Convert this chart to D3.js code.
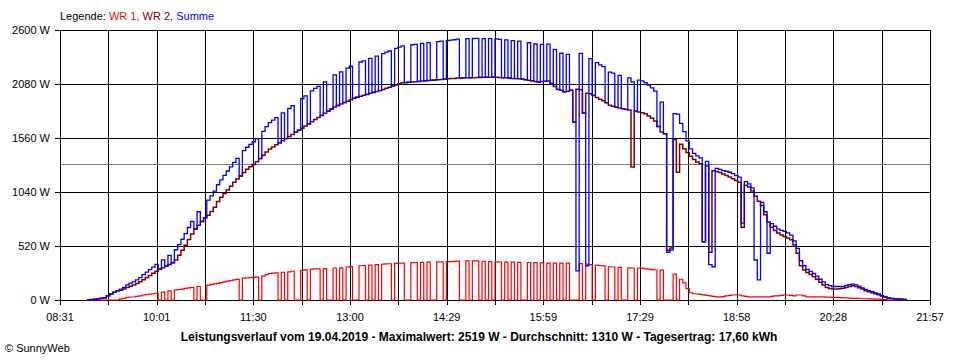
<!DOCTYPE html>
<html><head><meta charset="utf-8">
<script src="https://cdn.jsdelivr.net/npm/d3@7"></script>
<style>
html,body{margin:0;padding:0;background:#fff;}
svg{display:block;font-family:"Liberation Sans",Arial,sans-serif;}
</style></head><body>
<svg id="chart" width="960" height="360"></svg>
<script>
// ---- data ----
const axisStart = "08:31";
const axisEnd = "21:57";
const firstSample = "08:56";
const stepMinutes = 3;
const xTickLabels = ["08:31","10:01","11:30","13:00","14:29","15:59","17:29","18:58","20:28","21:57"];
const yTickValues = [0,520,1040,1560,2080,2600];
const averageW = 1310;
const legendParts = ["WR 1","WR 2","Summe"];
const titleText = "Leistungsverlauf vom 19.04.2019 - Maximalwert: 2519 W - Durchschnitt: 1310 W - Tagesertrag: 17,60 kWh";
const copyrightText = "\u00A9 SunnyWeb";

const wr1 = [0,0,0,0,0,0,0,0,0,0,
10,15,25,29,29,35,40,48,52,56,60,65,0,75,0,87,0,98,101,105,
112,116,121,0,130,0,0,144,150,155,161,167,175,182,186,193,199,0,211,213,
215,218,220,0,230,245,255,259,262,0,267,0,270,277,0,0,285,290,0,298,
300,300,0,302,0,0,308,0,310,0,318,322,0,0,330,331,0,336,0,341,
0,346,348,349,0,352,354,356,0,0,359,360,0,363,0,365,0,0,367,368,
0,369,370,372,375,0,0,376,0,377,377,0,373,0,370,0,368,366,0,365,
0,364,0,363,0,0,361,0,360,0,358,0,356,0,356,0,356,0,356,0,
0,0,350,0,345,340,0,335,332,329,0,320,318,0,315,0,0,310,308,0,
308,306,300,297,293,289,0,287,0,0,0,250,0,200,165,110,70,60,58,55,
50,45,40,35,30,30,32,40,45,48,48,48,40,35,30,30,30,30,30,30,
30,35,40,40,45,48,48,45,40,48,48,40,30,30,30,30,30,30,28,28,
25,25,22,20,20,18,15,15,15,12,12,10,10,8,8,5,5,0,0,0,
0,0,0,0];

const wr2 = [0,4,8,12,16,21,40,57,75,88,
94,106,120,133,145,158,175,196,216,237,257,278,296,311,327,342,358,386,432,480,
528,582,635,683,720,756,792,817,853,894,949,989,1025,1060,1096,1133,1164,1195,1227,1258,
1283,1304,1331,1362,1393,1425,1453,1474,1494,1514,1534,1554,1574,1594,1615,1635,1655,1675,1696,1716,
1737,1757,1777,1798,1818,1839,1859,1873,1887,1901,1915,1929,1943,1953,1962,1971,1980,1990,1999,2008,
2017,2027,2038,2049,2060,2071,2082,2091,2094,2097,2099,2102,2105,2108,2111,2114,2116,2119,2122,2124,
2127,2130,2132,2134,2137,2138,2139,2140,2140,2141,2142,2143,2144,2145,2146,2147,2146,2143,2141,2139,
2137,2134,2132,2130,2127,2122,2116,2111,2105,2099,2103,2106,2108,2085,2057,2028,2020,2005,2010,2020,
1714,2030,2025,1800,1990,1985,1970,1950,1933,1918,1900,1875,1866,1855,1849,1842,1835,1829,1280,1818,
1810,1804,1794,1773,1750,1723,1670,1618,1600,480,500,1545,1230,1500,1457,1420,1385,1352,1330,1313,
560,1290,460,1245,1238,1228,1213,1200,1185,1168,1150,1135,700,1105,1088,1050,1000,950,910,820,
750,700,670,645,626,612,598,580,530,450,330,290,265,245,225,200,170,145,120,110,
105,105,108,112,120,130,138,130,118,105,90,80,70,60,50,38,28,20,15,12,
10,8,6,4];

const summe = [0,4,8,12,16,21,40,57,75,88,
104,121,145,162,174,193,215,244,268,293,317,343,296,386,327,429,358,484,533,585,
640,698,756,683,850,756,792,961,1003,1049,1110,1156,1200,1242,1282,1326,1363,1195,1438,1471,
1498,1522,1551,1362,1623,1670,1708,1733,1756,1514,1801,1554,1844,1871,1615,1635,1940,1965,1696,2014,
2037,2057,1777,2100,1818,1839,2167,1873,2197,1901,2233,2251,1943,1953,2292,2302,1980,2326,1999,2349,
2017,2373,2386,2398,2060,2423,2436,2447,2094,2097,2458,2462,2105,2471,2111,2479,2116,2119,2489,2492,
2127,2499,2502,2506,2512,2138,2139,2516,2140,2518,2519,2143,2517,2145,2516,2147,2514,2509,2141,2504,
2137,2498,2132,2493,2127,2122,2477,2111,2465,2099,2461,2106,2464,2085,2413,2028,2376,2005,2366,2020,
1714,280,2375,1800,330,2325,1970,2285,2265,2247,1900,2195,2184,1855,2164,1842,1835,2139,2100,1818,
2118,2110,2094,2070,2043,2012,1670,1905,1600,460,480,1795,1790,1700,1622,1530,1455,1412,1388,1368,
560,1335,340,320,1268,1258,1245,1240,1230,1216,1198,1183,740,1140,1118,1080,385,193,940,850,
450,735,710,685,671,660,646,625,570,498,378,330,295,275,255,230,200,175,148,138,
130,130,130,132,140,148,153,145,133,117,102,90,80,68,58,43,33,20,15,12,
10,8,6,4];

// ---- chart ----
const toMin = s => { const [h,m] = s.split(":").map(Number); return h*60+m; };
const spanMin = toMin(axisEnd) - toMin(axisStart);
const offset0 = toMin(firstSample) - toMin(axisStart);

const L = 60, R = 930, T = 30, B = 300;
const svg = d3.select("#chart");
svg.append("rect").attr("width",960).attr("height",360).attr("fill","#fff");

const x = d3.scaleLinear().domain([0, spanMin]).range([L, R]);
const y = d3.scaleLinear().domain([0, 2600]).range([B, T]);

const nGrid = (xTickLabels.length - 1) * 2;
const gridMins = d3.range(nGrid + 1).map(k => k * spanMin / nGrid);
const px = v => Math.round(v) + 0.5;

const grid = svg.append("g").attr("shape-rendering","crispEdges");
gridMins.forEach(m => {
  grid.append("line").attr("x1",px(x(m))).attr("x2",px(x(m)))
    .attr("y1",T).attr("y2",B+5).attr("stroke","#000").attr("stroke-width",1);
});
yTickValues.forEach(v => {
  grid.append("line").attr("x1",L-5).attr("x2",R)
    .attr("y1",px(y(v))).attr("y2",px(y(v))).attr("stroke","#000").attr("stroke-width",1);
});
// average line
grid.append("line").attr("x1",L+1).attr("x2",R)
  .attr("y1",px(y(averageW))).attr("y2",px(y(averageW)))
  .attr("stroke","#808080").attr("stroke-width",1);

// axis labels
svg.append("g").selectAll("text").data(yTickValues).join("text")
  .attr("x",50).attr("y",d => y(d)).attr("dy","0.36em")
  .attr("text-anchor","end").attr("font-size",11).attr("fill","#000")
  .text(d => d + " W");
svg.append("g").selectAll("text").data(xTickLabels).join("text")
  .attr("x",(d,i) => x(gridMins[i*2])).attr("y",321)
  .attr("text-anchor","middle").attr("font-size",11).attr("fill","#000")
  .text(d => d);

// series
const colors = ["#ff0000","#800000","#0000ff"];
const widths = [1.2,1.5,1.3];
const seriesList = [wr1, wr2, summe];
const line = d3.line()
  .x((d,i) => x(offset0 + i*stepMinutes))
  .y(d => y(d))
  .curve(d3.curveStepAfter);
seriesList.forEach((s,k) => {
  svg.append("path").attr("d", line(s)).attr("fill","none")
    .attr("stroke",colors[k]).attr("stroke-width",widths[k])
    .attr("stroke-linejoin","miter");
});

// legend
const leg = svg.append("text").attr("x",60).attr("y",20).attr("font-size",11);
leg.append("tspan").attr("fill","#000").text("Legende: ");
legendParts.forEach((p,k) => {
  leg.append("tspan").attr("fill",colors[k]).text(p + (k < legendParts.length-1 ? ", " : ""));
});

// title & copyright
svg.append("text").attr("x",479).attr("y",341).attr("text-anchor","middle")
  .attr("font-size",12).attr("font-weight","bold").attr("fill","#000").text(titleText);
svg.append("text").attr("x",5).attr("y",352).attr("font-size",11).attr("fill","#000").text(copyrightText);
</script>
</body></html>
